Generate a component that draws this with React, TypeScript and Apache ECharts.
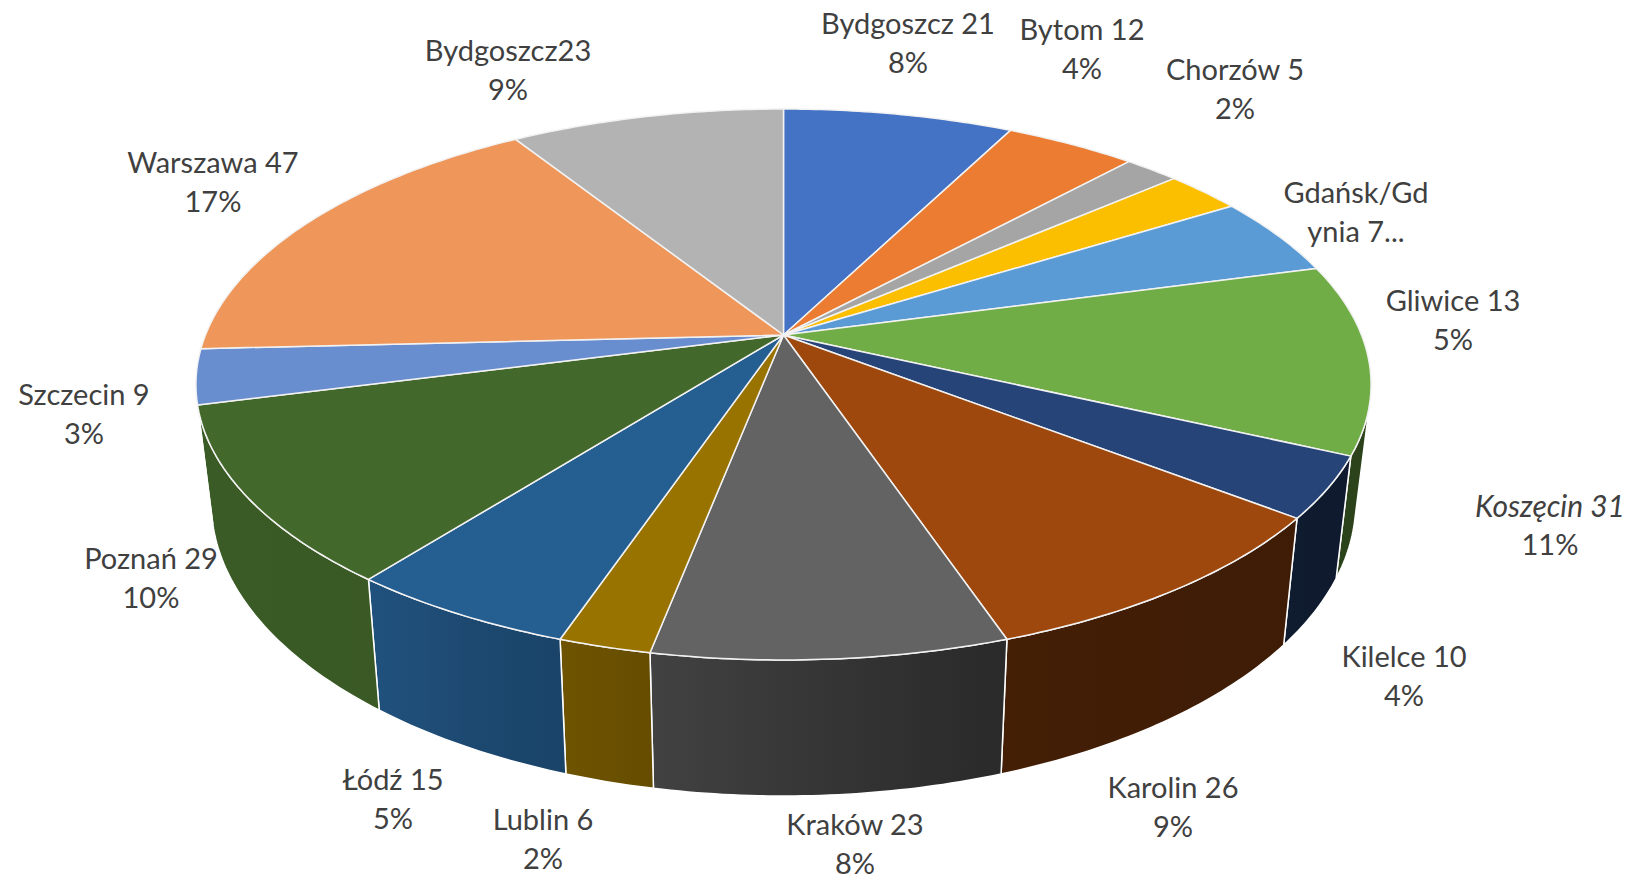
import React, { useEffect, useRef } from "react";
import * as echarts from "echarts";

const cities = ["Bydgoszcz 21", "Bytom 12", "Chorzów 5", "Gdańsk/Gd\nynia 7...", "Gliwice 13", "Koszęcin 31", "Kilelce 10", "Karolin 26", "Kraków 23", "Lublin 6", "Łódź 15", "Poznań 29", "Szczecin 9", "Warszawa 47", "Bydgoszcz23"];
const percentLabels = ["8%", "4%", "2%", "", "5%", "11%", "4%", "9%", "8%", "2%", "5%", "10%", "3%", "17%", "9%"];
const sliceValues = [21, 12, 5, 7, 13, 31, 10, 26, 23, 6, 15, 29, 9, 47, 25];
const colors = ["#4472c4", "#eb7c31", "#a5a5a5", "#fcbf00", "#5b9bd5", "#70ad47", "#264478", "#9e480e", "#636363", "#997300", "#255e91", "#43682b", "#698ed0", "#ef965a", "#b3b3b3"];
const labelCenters = [
  [908, 42], [1082, 48], [1235, 88], [1356, 211], [1453, 319], [1550, 524], [1404, 675], [1173, 806], [855, 843], [543, 838], [393, 798], [151, 577], [84, 413], [213, 181], [508, 69],
];

// Perspective projection of the pie's top and bottom discs
const CX = 783.5;
const CY = 335;
const A = 578;
const B = 266.6;
const K = 0.1796;
const BOTTOM_CY = 449.6;
const BOTTOM_SX = 0.974;
const BOTTOM_SY = 1.066;
const LINE_STEP = 39;
const ITALIC_INDEX = 5;

const total = sliceValues.reduce((s, v) => s + v, 0);
const cumulative = sliceValues.reduce<number[]>((acc, v) => [...acc, acc[acc.length - 1] + v], [0]);
const angleOf = (c: number) => (c / total) * Math.PI * 2;

function top(t: number): number[] {
  const u = Math.sin(t), v = -Math.cos(t), w = 1 - K * v;
  return [CX + (A * u) / w, CY + (B * v) / w];
}
function bottom(t: number): number[] {
  const u = Math.sin(t), v = -Math.cos(t), w = 1 - K * v;
  return [CX + (BOTTOM_SX * A * u) / w, BOTTOM_CY + (BOTTOM_SY * B * v) / w];
}
function frontFacing(t: number): boolean {
  const p = top(t), n = top(t + 0.001), q = bottom(t);
  const tx = n[0] - p[0], ty = n[1] - p[1], dx = q[0] - p[0], dy = q[1] - p[1];
  return tx * dy - ty * dx < 0;
}
function sampleAngles(i: number): number[] {
  const a0 = angleOf(cumulative[i]), a1 = angleOf(cumulative[i + 1]);
  const n = Math.max(2, Math.ceil((a1 - a0) / (Math.PI / 240)));
  const out: number[] = [];
  for (let j = 0; j <= n; j++) out.push(a0 + ((a1 - a0) * j) / n);
  return out;
}

const shadeStops = [[-600, 0.88], [-400, 0.86], [-300, 0.76], [-150, 0.68], [-50, 0.6], [200, 0.43], [600, 0.38]];
function shadeAt(dx: number): number {
  for (let i = 1; i < shadeStops.length; i++) {
    if (dx <= shadeStops[i][0]) {
      const [x0, s0] = shadeStops[i - 1], [x1, s1] = shadeStops[i];
      return s0 + ((s1 - s0) * (dx - x0)) / (x1 - x0);
    }
  }
  return 0.38;
}
function darken(hex: string, f: number): string {
  const n = parseInt(hex.slice(1), 16);
  const c = [(n >> 16) & 255, (n >> 8) & 255, n & 255].map((x) => Math.round(x * f));
  return `rgb(${c[0]},${c[1]},${c[2]})`;
}

function renderWall(params: any) {
  const i = params.dataIndex;
  const angles = sampleAngles(i).filter(frontFacing);
  if (angles.length < 2) return { type: "group", children: [] };
  const points = [...angles.map(top), ...angles.slice().reverse().map(bottom)];
  const xs = points.map((p) => p[0]);
  const x0 = Math.min(...xs), x1 = Math.max(...xs);
  const colorStops = [0, 0.25, 0.5, 0.75, 1].map((o) => ({
    offset: o,
    color: darken(colors[i], shadeAt(x0 + (x1 - x0) * o - CX)),
  }));
  return {
    type: "polygon",
    shape: { points },
    style: {
      fill: { type: "linear", x: x0, y: 0, x2: x1, y2: 0, global: true, colorStops },
      stroke: "#ffffff",
      lineWidth: 1.5,
      lineJoin: "round",
    },
  };
}

function renderTop(params: any) {
  const i = params.dataIndex;
  const points = [[CX, CY], ...sampleAngles(i).map(top)];
  return {
    type: "polygon",
    shape: { points },
    style: { fill: colors[i], stroke: "#f2f2f2", lineWidth: 1.5, lineJoin: "round" },
  };
}

function renderLabel(params: any) {
  const i = params.dataIndex;
  const lines = (percentLabels[i] ? `${cities[i]}\n${percentLabels[i]}` : cities[i]).split("\n");
  return {
    type: "group",
    children: lines.map((line, j) => {
      const italic = i === ITALIC_INDEX && j === 0;
      return {
        type: "text",
        style: {
          text: line,
          x: labelCenters[i][0],
          y: labelCenters[i][1] + (j - (lines.length - 1) / 2) * LINE_STEP,
          align: "center",
          verticalAlign: "middle",
          fill: "#404040",
          fontFamily: "Lato",
          fontSize: italic ? 30 : 29,
          lineHeight: 29,
          fontStyle: italic ? "italic" : "normal",
        },
      };
    }),
  };
}

export default function App() {
  const ref = useRef<HTMLDivElement>(null);
  useEffect(() => {
    if (!ref.current) return;
    const chart = echarts.init(ref.current, undefined, { renderer: "svg" });
    const common = { type: "custom", coordinateSystem: "none", silent: true, data: sliceValues };
    chart.setOption({
      animation: false,
      backgroundColor: "#ffffff",
      series: [
        { ...common, z: 1, renderItem: renderWall },
        { ...common, z: 2, renderItem: renderTop },
        { ...common, z: 3, renderItem: renderLabel },
      ],
    });
    return () => chart.dispose();
  }, []);
  return <div ref={ref} style={{ position: "absolute", left: 0, top: 0, width: 1632, height: 880 }} />;
}
